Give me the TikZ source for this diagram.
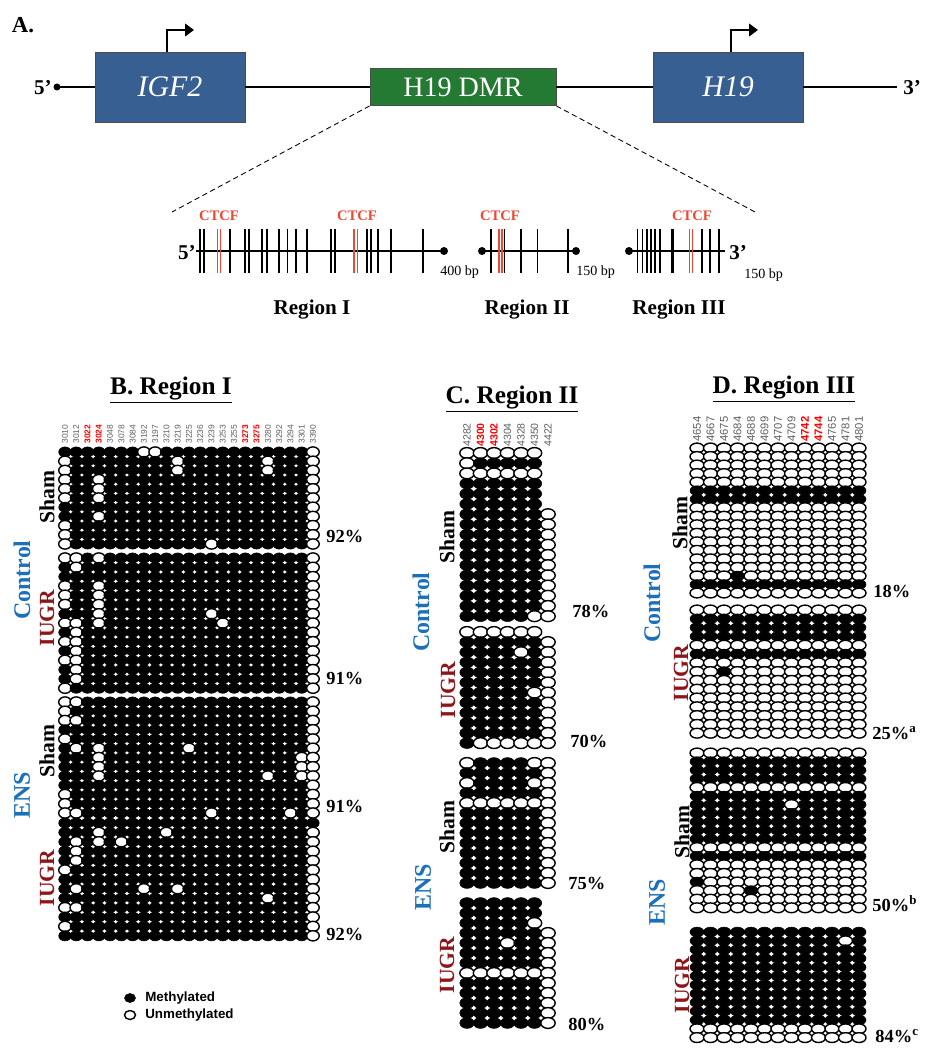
\documentclass[tikz,border=0pt]{standalone}
\usepackage{fontspec}
\setmainfont{Liberation Serif}
\setsansfont{Liberation Sans}
\usetikzlibrary{arrows.meta,positioning}

\definecolor{geneblue}{RGB}{56,95,146}
\definecolor{dmrgreen}{RGB}{36,122,50}
\definecolor{ctcfred}{RGB}{236,72,52}
\definecolor{grpblue}{RGB}{28,112,186}
\definecolor{iugrred}{RGB}{140,22,26}
\definecolor{cpggray}{RGB}{95,95,95}

\tikzset{
  methyl/.style={fill=black, draw=black, line width=0.3pt},
  unmeth/.style={fill=white, draw=black, line width=0.8pt},
  genebox/.style={draw=black!70, line width=0.5pt, fill=geneblue, text=white,
    minimum width=3cm, minimum height=1.4cm, inner sep=0pt,
    font=\fontsize{17}{17}\selectfont\itshape},
  dmrbox/.style={draw=black!70, line width=0.5pt, fill=dmrgreen, text=white,
    minimum width=3.72cm, minimum height=0.74cm, inner sep=0pt,
    font=\fontsize{16}{16}\selectfont},
  chrom/.style={line width=1.5pt},
  promoter/.style={line width=1.5pt, -{Triangle[length=5pt,width=7pt]}},
  zoomline/.style={densely dashed, line width=0.5pt},
  cpgtick/.style={line width=1.1pt},
  ctcftick/.style={cpgtick, line width=0.9pt, draw=ctcfred},
  ctcflab/.style={font=\bfseries\fontsize{8.3}{8.3}\selectfont, text=ctcfred, inner sep=0pt},
  bplab/.style={font=\fontsize{8}{8}\selectfont, inner sep=0pt, anchor=west},
  endlab/.style={font=\bfseries\fontsize{12}{12}\selectfont, inner sep=0pt},
  reglab/.style={font=\bfseries\fontsize{12}{12}\selectfont, inner sep=0pt},
  paneltitle/.style={font=\bfseries\fontsize{14.4}{14.4}\selectfont, inner sep=0pt},
  grouplab/.style={rotate=90, font=\bfseries\fontsize{13.6}{13.6}\selectfont, text=grpblue, inner sep=0pt},
  shamlab/.style={rotate=90, font=\bfseries\fontsize{12.3}{12.3}\selectfont, inner sep=0pt},
  iugrlab/.style={shamlab, text=iugrred},
  pctlab/.style={anchor=west, font=\bfseries\fontsize{10.5}{10.5}\selectfont, inner sep=0pt},
  numlab/.style={rotate=90, anchor=west, inner sep=0pt, text=cpggray, font=\sffamily\numsize},
  numred/.style={numlab, text=red, font=\sffamily\bfseries\numsize},
  legtext/.style={anchor=west, inner sep=0pt, font=\sffamily\bfseries\fontsize{7.6}{8}\selectfont},
}
\newcommand\numsize{\fontsize{4.8}{5}\selectfont}

% one block of CpG ovals, one string per clone: 1 methylated, 0 unmethylated, - none
\newcommand\cpgblock[3]{%
  \foreach \cpgr [count=\cpgi from 0] in {#3}{%
    \pgfmathsetmacro\cpgy{#1+\cpgi*#2}%
    \let\cpgx\cpgxo
    \expandafter\cpgscan\cpgr\relax}}
\def\cpgscan#1{%
  \ifx#1\relax\else
    \ifx#11\path[methyl] (\cpgx,\cpgy) ellipse [x radius=\cpgrx, y radius=\cpgry];\fi
    \ifx#10\path[unmeth] (\cpgx,\cpgy) ellipse [x radius=\cpgrx, y radius=\cpgry];\fi
    \pgfmathsetmacro\cpgx{\cpgx+\cpgdx}%
    \expandafter\cpgscan
  \fi}

\begin{document}
\begin{tikzpicture}[x=0.02cm, y=-0.02cm]
\useasboundingbox (0,0) rectangle (926,1050);

% A. locus
\node[paneltitle, font=\bfseries\fontsize{13}{13}\selectfont] (ttlA) at (23,25) {A.};
\coordinate (five) at (57,87);
\coordinate (three) at (897,87);
\node[genebox] (igf) at (170,87) {IGF2};
\node[dmrbox] (dmr) at (463,87) {H19 DMR};
\node[genebox] (hnt) at (728,87) {H19};
\draw[chrom] (five) -- (igf);
\draw[chrom] (igf) -- (dmr);
\draw[chrom] (dmr) -- (hnt);
\draw[chrom] (hnt) -- (three);
\fill (five) circle (3.5);
\node[endlab, anchor=east] (fivelab) at (52,88) {5'};
\node[endlab, anchor=west] (threelab) at (903,88) {3'};

% promoters
\coordinate (igftss) at (194,30);
\coordinate (hnttss) at (758,30);
\draw[promoter] ([xshift=-0.06cm]igf.north) |- (igftss);
\draw[promoter] ([xshift=0.06cm]hnt.north) |- (hnttss);

% zoom onto the DMR
\coordinate (zl) at (172,212);
\coordinate (zr) at (755,212);
\draw[zoomline] (dmr.south west) -- (zl);
\draw[zoomline] (dmr.south east) -- (zr);

% Region I
\coordinate (rIa) at (196,251);
\coordinate (rIb) at (444,251);
\draw[chrom, line width=1.2pt] (rIa) -- (rIb);
\foreach \t in {200,204.2,230.4,245,249.2,261.7,266.7,279.2,287.5,295.8,307.1,331.3,334.6,366.7,370.8,378.3,390.8,422.9}
  \draw[cpgtick] (\t,229) -- (\t,273);
\foreach \t in {217.5,220.5,354,357.5}
  \draw[ctcftick] (\t,229) -- (\t,273);
\fill (rIb) circle (4);
\node[endlab, anchor=east] (rIfive) at (196,253) {5'};
\node[bplab] (rIbp) at (440,272) {400 bp};
\node[ctcflab] (ctcfa) at (219,216) {CTCF};
\node[ctcflab] (ctcfb) at (357,216) {CTCF};
\node[reglab] (regI) at (312,310) {Region I};

% Region II
\coordinate (rIIa) at (482,251);
\coordinate (rIIb) at (576,251);
\draw[chrom, line width=1.2pt] (rIIa) -- (rIIb);
\foreach \t in {490.8,504.5,520.8,537.5,567.9}
  \draw[cpgtick] (\t,229) -- (\t,273);
\foreach \t in {498.8,501.8}
  \draw[ctcftick] (\t,229) -- (\t,273);
\fill (rIIa) circle (4);
\fill (rIIb) circle (4);
\node[bplab] (rIIbp) at (576,272) {150 bp};
\node[ctcflab] (ctcfc) at (500,216) {CTCF};
\node[reglab] (regII) at (527,310) {Region II};

% Region III
\coordinate (rIIIa) at (629,251);
\coordinate (rIIIb) at (725,251);
\draw[chrom, line width=1.2pt] (rIIIa) -- (rIIIb);
\foreach \t in {637.5,642.5,647.1,651.3,655.4,659.6,671.7,673.5,702.1,710.4,718.8}
  \draw[cpgtick] (\t,229) -- (\t,273);
\foreach \t in {689.6,692.5}
  \draw[ctcftick] (\t,229) -- (\t,273);
\fill (rIIIa) circle (4);
\node[endlab, anchor=west] (rIIIthree) at (729,253) {3'};
\node[bplab] (rIIIbp) at (744,275) {150 bp};
\node[ctcflab] (ctcfd) at (692,216) {CTCF};
\node[reglab] (regIII) at (679,310) {Region III};

% B. Region I
\node[paneltitle] (ttlB) at (171,390) {\underline{B. Region I}};
\foreach \lab/\st [count=\k from 0] in {3010/numlab,3012/numlab,3022/numred,3024/numred,3048/numlab,3078/numlab,3084/numlab,3192/numlab,3197/numlab,3210/numlab,3219/numlab,3225/numlab,3236/numlab,3239/numlab,3253/numlab,3255/numlab,3273/numred,3275/numred,3280/numlab,3292/numlab,3294/numlab,3301/numlab,3390/numlab}
  \node[\st] (numB\k) at (65+\k*11.27,444) {\lab};
\def\cpgxo{65}\def\cpgdx{11.27}\def\cpgrx{6.3}\def\cpgry{5.1}
\cpgblock{452}{9.2}{11111110011111111111110,01111111110111111101110,01111111110111111101110,
01101111111111111111110,01101111111111111111110,01101111111111111111110,11111111111111111111110,
11101111111111111111110,01111111111111111111110,01111111111111111111110,01111111111110111111110}
\cpgblock{558}{9.3}{00101111111111111111110,10111111111111111111110,11111111111111111111110,
01101111111111111111110,01101111111111111111110,01101111111111111111110,11101111111110111111110,
00101111111111011111110,10111111111111111111110,00111111111111111111110,10111111111111111111110,
00111111111111111111110,10111111111111111111110,10111111111111111111110,01111111111111111111110}
\cpgblock{702}{9.25}{00111111111111111111110,01111111111111111111110,00111111111111111111110,
11111111111111111111110,01111111111111111111110,10101111111011111111110,11101111111111111111100,
11101111111111111111100,11101111111111111101100,11111111111111111111110,01111111111111111111110,
01111111111111111111110,00111111111110111111010}
\cpgblock{823}{9.4}{11111111111111111111111,11101111101111111111110,10101011111111111111110,
10111111111111111111110,10111111111111111111110,01111111111111111111110,11111111111111111111110,
10111110110111111111110,11111111111111111101110,00111111111111111111110,11111111111111111111110,
01111111111111111111110,11111111111111111111110}
\node[grouplab] (ctlB) at (22,580) {Control};
\node[grouplab] (ensB) at (22,795) {ENS};
\node[shamlab] (shamBa) at (47,497) {Sham};
\node[iugrlab] (iugrBa) at (47,618) {IUGR};
\node[shamlab] (shamBb) at (47,751) {Sham};
\node[iugrlab] (iugrBb) at (47,878) {IUGR};
\node[pctlab] (pctBa) at (326,536) {92\%};
\node[pctlab] (pctBb) at (326,678) {91\%};
\node[pctlab] (pctBc) at (326,806) {91\%};
\node[pctlab] (pctBd) at (326,934) {92\%};

% C. Region II
\node[paneltitle] (ttlC) at (512,399) {\underline{C. Region II}};
\renewcommand\numsize{\fontsize{6}{6}\selectfont}
\foreach \lab/\st [count=\k from 0] in {4282/numlab,4300/numred,4302/numred,4304/numlab,4328/numlab,4350/numlab,4422/numlab}
  \node[\st] (numC\k) at (467+\k*13.5,447) {\lab};
\def\cpgxo{467}\def\cpgdx{13.5}\def\cpgrx{7.2}\def\cpgry{5.4}
\cpgblock{453}{10.2}{000000-,011111-,000000-,111111-,111111-,111111-,1111110,1111110,1111110,
1111110,1111110,1111110,1111110,1111110,1111110,1111110,1111100}
\cpgblock{632}{10.1}{000000-,1111110,1111010,1111110,1111110,1111110,1111100,1111110,1111110,
1111110,1111110,1000000}
\cpgblock{763}{10}{0111100,1111110,0111100,1111110,0000000,1111110,1111110,1111110,1111110,
1111110,1111110,1111110,1111110}
\cpgblock{903}{10}{111111-,111111-,111110-,1111110,1110110,1111110,1111110,0000000,1111110,
1111110,1111110,1111110,1111110}
\node[grouplab] (ctlC) at (421,612) {Control};
\node[grouplab] (ensC) at (423,887) {ENS};
\node[shamlab] (shamCa) at (447,537) {Sham};
\node[iugrlab] (iugrCa) at (448,690) {IUGR};
\node[shamlab] (shamCb) at (447,827) {Sham};
\node[iugrlab] (iugrCb) at (447,965) {IUGR};
\node[pctlab] (pctCa) at (572,611) {78\%};
\node[pctlab] (pctCb) at (570,741) {70\%};
\node[pctlab] (pctCc) at (568,883) {75\%};
\node[pctlab] (pctCd) at (568,1024) {80\%};

% D. Region III
\node[paneltitle] (ttlD) at (784,389) {\underline{D. Region III}};
\renewcommand\numsize{\fontsize{6.4}{6.4}\selectfont}
\foreach \lab/\st [count=\k from 0] in {4654/numlab,4667/numlab,4675/numlab,4684/numlab,4688/numlab,4699/numlab,4707/numlab,4709/numlab,4742/numred,4744/numred,4765/numlab,4781/numlab,4801/numlab}
  \node[\st] (numD\k) at (697+\k*13.5,442) {\lab};
\def\cpgxo{697}\def\cpgdx{13.5}\def\cpgrx{7.0}\def\cpgry{4.9}
\cpgblock{448}{8.53}{0000000000000,0000000000000,0000000000000,0000000000000,0000000000000,
1111111111111,1111111111111,0000000000000,0000000000000,0000000000000,0000000000000,
0000000000000,0000000000000,0000000000000,0000000000000,0001000000000,1111111111111,0000000000000}
\cpgblock{610}{8.8}{0000000000000,1111111111111,1111111111111,1111111111111,0000000000000,
1111111111111,0000000000000,0010000000000,0000000000000,0000000000000,0000000000000,
0000000000000,0000000000000,0000000000000,0000000000000}
\cpgblock{753}{8.6}{0000000000000,1111111111111,1111111111111,1111111111111,0000000000000,
1111111111111,1111111011111,1111111111111,1111111111111,1111111111111,1111111111111,
0000000000000,1111111111111,0000000000000,0000000000000,1000000000000,0000100000000,
0000000000000,0000000000000}
\cpgblock{932}{8.8}{1111111111111,1111111111101,1111111111111,1111111111111,1111111111111,
1111111111111,1111111111111,1111111111111,1111111111111,1111111111111,1111111111111,
0000000000000,0000000000000}
\node[grouplab] (ctlD) at (652,603) {Control};
\node[grouplab] (ensD) at (657,902) {ENS};
\node[shamlab] (shamDa) at (680,523) {Sham};
\node[iugrlab] (iugrDa) at (681,673) {IUGR};
\node[shamlab] (shamDb) at (682,832) {Sham};
\node[iugrlab] (iugrDb) at (682,985) {IUGR};
\node[pctlab] (pctDa) at (873,591) {18\%};
\node[pctlab] (pctDb) at (872,733) {25\%\textsuperscript{a}};
\node[pctlab] (pctDc) at (872,904) {50\%\textsuperscript{b}};
\node[pctlab] (pctDd) at (875,1036) {84\%\textsuperscript{c}};

% legend
\path[methyl] (130,998) ellipse [x radius=5.5, y radius=4.5];
\path[unmeth] (130,1015) ellipse [x radius=5.5, y radius=4.5];
\node[legtext] (legm) at (145,998) {Methylated};
\node[legtext] (legu) at (145,1015) {Unmethylated};
\end{tikzpicture}
\end{document}
